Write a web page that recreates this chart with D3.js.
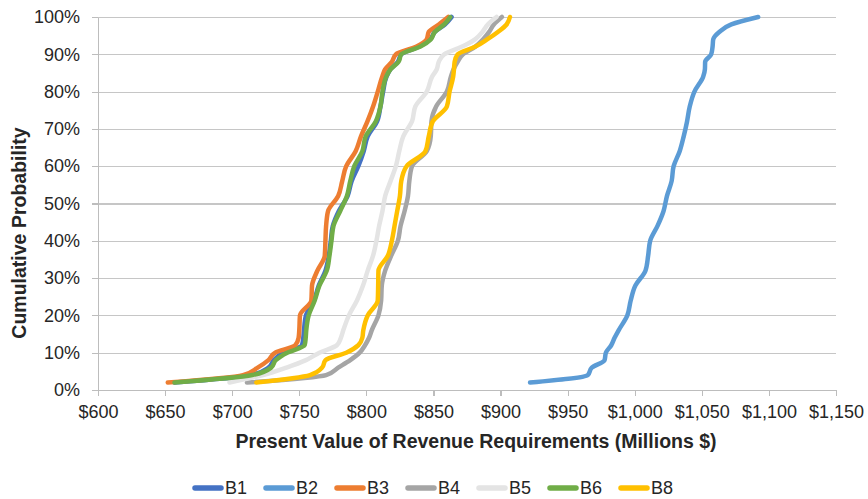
<!DOCTYPE html>
<meta charset="utf-8">
<style>
    body { margin: 0; background: #fff; }
    svg { font-family: "Liberation Sans", Arial, sans-serif; }
    .grid line { stroke: #c6c6c6; stroke-width: 1.2px; shape-rendering: crispEdges; }
    .grid path { stroke-width: 0; }
    .axis path, .axis line { stroke: #bdbdbd; stroke-width: 1.2px; shape-rendering: crispEdges; }
    .axis text { fill: #262626; font-size: 18px; }
    .title { fill: #262626; font-size: 19.5px; font-weight: bold; }
    .cdf { fill: none; stroke-width: 4.5px; stroke-linecap: round; stroke-linejoin: round; }
    .legend text { fill: #262626; font-size: 18px; }
</style>
<body>
<script src="https://d3js.org/d3.v7.min.js"></script>
<script>

// cumulative probability levels (%) shared by all series
var probs = [2, 4, 6, 8, 10, 12, 14, 16, 20, 24, 28, 32, 36, 40, 44, 48, 52, 56, 60,
             64, 68, 72, 76, 80, 84, 86, 88, 90, 92, 94, 96, 98, 100];

// present value of revenue requirements (millions $) at each level
var b1 = [657, 714, 727, 731, 738, 752, 753, 753.5, 755, 761, 764.5, 769.5, 772, 773.5, 775, 779.5, 786,
          789, 794, 798, 801, 808, 810.5, 812.5, 815, 818, 823.5, 826, 839, 847.5, 851, 858.5, 863.5];
var b2 = [922, 965, 968, 977.5, 978.5, 982.5, 985, 988, 994.5, 997, 1000.5, 1008, 1010, 1011.5, 1017, 1021.5, 1024,
          1027.5, 1029, 1033.5, 1036.5, 1039, 1041, 1044.5, 1051, 1052.3, 1052.5, 1057, 1058, 1058.5, 1063, 1072, 1092];
var b3 = [652, 708, 719, 727, 732, 747, 749.5, 750, 750.5, 759, 759.5, 763.5, 769, 769.5, 770, 771.5, 779,
          782, 785, 792, 796, 800.8, 805, 808.5, 811.8, 814, 819, 822, 837, 845, 846.5, 854, 861];
var b4 = [711, 770, 779, 788, 795, 799, 802, 804, 809, 811, 811.5, 814, 818.5, 823.5, 825.5, 828.5, 831,
          832, 834, 845, 848, 848.5, 852, 860, 863, 865, 868, 872, 881, 887, 891.5, 895, 901];
var b5 = [698, 723, 740.5, 755, 765, 778, 781, 782.8, 787, 793, 797.5, 801, 805, 807.5, 809.5, 812, 814,
          818, 822, 824.5, 827.5, 834, 836.5, 845, 849, 852.5, 854, 858, 871, 881, 886.5, 890.5, 897];
var b6 = [657, 715, 729, 732.5, 741, 754, 754.8, 755.2, 757, 761.5, 765, 770.5, 772.5, 774, 775.5, 780.5, 785.5,
          788, 791, 797, 799.5, 807, 810.5, 812, 814.8, 818, 824, 826, 840, 848, 851, 858, 862.5];
var b8 = [718, 758, 767, 769.5, 785, 794, 797, 797.7, 801, 808.5, 808.8, 809, 816, 819, 821, 823, 825,
          826, 830, 844, 846.5, 849.5, 860, 862, 864.7, 865.3, 865.8, 868, 881, 890, 898, 904.5, 907];

var seriesNames = ["B1", "B2", "B3", "B4", "B5", "B6", "B8"];
var seriesValues = [b1, b2, b3, b4, b5, b6, b8];
var seriesColors = ["#4472C4", "#5B9BD5", "#ED7D31", "#A5A5A5", "#E4E4E4", "#70AD47", "#FFC000"];

var xTicks = d3.range(600, 1151, 50);
var yTicks = d3.range(0, 1.01, 0.1);

var W = 868, H = 499;
var plot = {left: 98, right: 836, top: 17, bottom: 390};

var svg = d3.select("body").append("svg")
    .attr("width", W)
    .attr("height", H);

var x = d3.scaleLinear().domain([600, 1150]).range([plot.left, plot.right]);
var y = d3.scaleLinear().domain([0, 1]).range([plot.bottom, plot.top]);

// horizontal gridlines
svg.append("g")
    .attr("class", "grid")
    .attr("transform", "translate(" + plot.left + ",0)")
    .call(d3.axisLeft(y).tickValues(yTicks)
        .tickSize(-(plot.right - plot.left))
        .tickFormat(""));

// y axis
svg.append("g")
    .attr("class", "axis")
    .attr("transform", "translate(" + plot.left + ",0)")
    .call(d3.axisLeft(y).tickValues(yTicks)
        .tickSize(6).tickSizeOuter(0).tickPadding(12)
        .tickFormat(d3.format(".0%")));

// x axis
svg.append("g")
    .attr("class", "axis")
    .attr("transform", "translate(0," + plot.bottom + ")")
    .call(d3.axisBottom(x).tickValues(xTicks)
        .tickSize(6).tickSizeOuter(0).tickPadding(9)
        .tickFormat(function(d) { return "$" + d3.format(",")(d); }));

// curves
var line = d3.line()
    .x(function(d) { return x(d[0]); })
    .y(function(d) { return y(d[1] / 100); })
    .curve(d3.curveMonotoneY);

seriesValues.forEach(function(vals, i) {
    svg.append("path")
        .datum(vals.map(function(v, j) { return [v, probs[j]]; }))
        .attr("class", "cdf")
        .attr("stroke", seriesColors[i])
        .attr("d", line);
});

// axis titles
svg.append("text")
    .attr("class", "title")
    .attr("x", 476)
    .attr("y", 448)
    .attr("text-anchor", "middle")
    .text("Present Value of Revenue Requirements (Millions $)");

svg.append("text")
    .attr("class", "title")
    .attr("transform", "translate(26,233) rotate(-90)")
    .attr("text-anchor", "middle")
    .text("Cumulative Probability");

// legend
var legend = svg.append("g").attr("class", "legend");
var item = legend.selectAll("g")
    .data(seriesNames)
    .enter().append("g")
    .attr("transform", function(d, i) { return "translate(" + (195 + i * 71) + ",488)"; });

item.append("line")
    .attr("x1", 0).attr("x2", 26)
    .attr("stroke", function(d, i) { return seriesColors[i]; })
    .attr("stroke-width", 5.5)
    .attr("stroke-linecap", "round");

item.append("text")
    .attr("x", 30)
    .attr("dy", "0.36em")
    .text(function(d) { return d; });

</script>
</body>
